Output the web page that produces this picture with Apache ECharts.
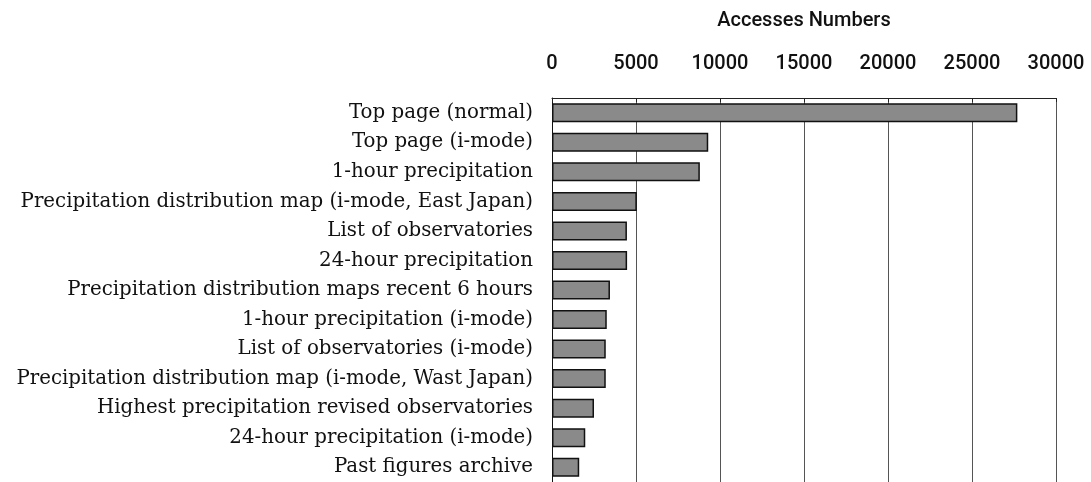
<!DOCTYPE html>
<html>
<head>
<meta charset="utf-8">
<script src="https://cdn.jsdelivr.net/npm/echarts@6/dist/echarts.min.js"></script>
<style>
html,body{margin:0;padding:0;background:#fff;}
#chart{width:1091px;height:482px;}
</style>
</head>
<body>
<div id="chart"></div>
<script>
const categories = [
  "Top page (normal)",
  "Top page (i-mode)",
  "1-hour precipitation",
  "Precipitation distribution map (i-mode, East Japan)",
  "List of observatories",
  "24-hour precipitation",
  "Precipitation distribution maps recent 6 hours",
  "1-hour precipitation (i-mode)",
  "List of observatories (i-mode)",
  "Precipitation distribution map (i-mode, Wast Japan)",
  "Highest precipitation revised observatories",
  "24-hour precipitation (i-mode)",
  "Past figures archive"
];
const accesses = [27700, 9300, 8800, 5050, 4460, 4470, 3450, 3260, 3200, 3200, 2500, 1980, 1620];
const xTicks = [0, 5000, 10000, 15000, 20000, 25000, 30000];

const chart = echarts.init(document.getElementById('chart'));
chart.setOption({
  animation: false,
  backgroundColor: '#ffffff',
  grid: { left: 552, right: 35, top: 98, height: 389, containLabel: false },
  xAxis: {
    type: 'value',
    position: 'top',
    min: xTicks[0],
    max: xTicks[xTicks.length - 1],
    interval: 5000,
    name: 'Accesses Numbers',
    nameLocation: 'middle',
    nameGap: 67,
    nameTextStyle: { fontFamily: 'Roboto', fontWeight: 500, fontSize: 20, color: '#111' },
    axisLine: { show: true, lineStyle: { color: '#222', width: 1 } },
    axisTick: { show: true, inside: true, length: 4, lineStyle: { color: '#222' } },
    axisLabel: {
      fontFamily: 'Roboto', fontWeight: 500, fontSize: 20, color: '#111', margin: 24,
      formatter: function (v) { return String(v); }
    },
    splitLine: { show: true, lineStyle: { color: '#555', width: 1 } }
  },
  yAxis: {
    type: 'category',
    inverse: true,
    data: categories,
    axisLine: { show: true, lineStyle: { color: '#111', width: 1 } },
    axisTick: { show: false },
    axisLabel: { fontFamily: 'DejaVu Serif', fontSize: 19.8, color: '#111', margin: 19 }
  },
  series: [{
    type: 'bar',
    data: accesses,
    barWidth: 19,
    itemStyle: { color: '#8a8a8a', borderColor: '#111', borderWidth: 1.5 },
    silent: true
  }]
});
</script>
</body>
</html>
